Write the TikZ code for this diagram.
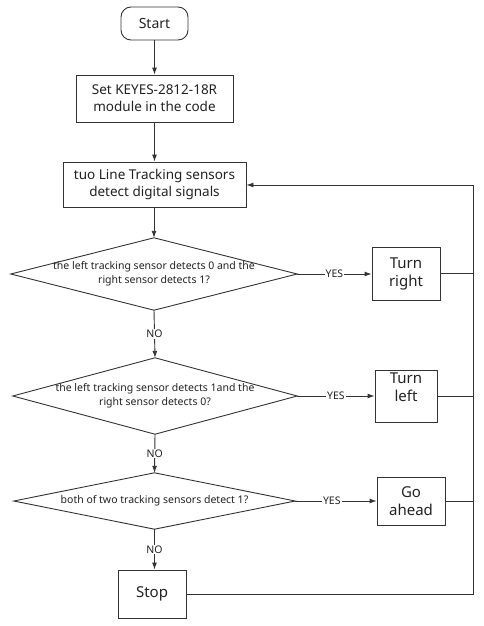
\documentclass[tikz,border=0pt]{standalone}
\usepackage{fontspec}
\setmainfont{Noto Sans}
\usetikzlibrary{arrows.meta}
\definecolor{ln}{HTML}{333333}
\definecolor{tx}{HTML}{222222}
\tikzset{
  base/.style={draw=ln, line width=0.9pt, text=tx, align=center, inner sep=1pt},
  startbox/.style={base, rounded corners=10pt},
  procbox/.style={base, font=\fontsize{13.5}{17}\selectfont},
  bigbox/.style={base, font=\fontsize{15}{18}\selectfont},
  decbox/.style={align=center, text=tx, inner sep=0pt, font=\fontsize{10.5}{14}\selectfont},
  diam/.style={draw=ln, line width=0.9pt},
  conn/.style={draw=ln, line width=0.9pt, -{Latex[length=7pt,width=5pt]}},
  plain/.style={draw=ln, line width=0.9pt},
  lbl/.style={fill=white, text=tx, inner sep=1pt, font=\fontsize{10.5}{12}\selectfont}
}
\begin{document}
\begin{tikzpicture}[x=1pt,y=-1pt]
\useasboundingbox (0,0) rectangle (483,626);

\node[startbox, font=\fontsize{14}{17}\selectfont, minimum width=67pt, minimum height=33pt] (start) at (154.5,23.5) {Start};
\node[procbox, minimum width=157pt, minimum height=47pt] (set) at (154.5,98.5) {Set KEYES-2812-18R\\module in the code};
\node[procbox, minimum width=183pt, minimum height=45pt] (track) at (154.5,184.5) {tuo Line Tracking sensors\\detect digital signals};

\node[decbox, minimum width=286pt, minimum height=72pt] (d1) at (154,274) {the left tracking sensor detects 0 and the\\right sensor detects 1?};
\draw[diam] (d1.west) -- (d1.north) -- (d1.east) -- (d1.south) -- cycle;
\node[decbox, minimum width=284pt, minimum height=76pt] (d2) at (155,396) {the left tracking sensor detects 1and the\\right sensor detects 0?};
\draw[diam] (d2.west) -- (d2.north) -- (d2.east) -- (d2.south) -- cycle;
\node[decbox, minimum width=281pt, minimum height=56pt] (d3) at (154.5,501) {both of two tracking sensors detect 1?};
\draw[diam] (d3.west) -- (d3.north) -- (d3.east) -- (d3.south) -- cycle;

\node[bigbox, minimum width=68pt, minimum height=53pt] (tr) at (406,273.5) {Turn\\right};
\node[bigbox, minimum width=62pt, minimum height=52pt, text depth=18pt] (tl) at (406,396) {Turn\\left};
\node[bigbox, minimum width=68pt, minimum height=48pt] (ga) at (411,501) {Go\\ahead};
\node[bigbox, minimum width=68pt, minimum height=48pt] (stop) at (152,594) {Stop};

\coordinate (rx) at (473,185);
\coordinate (bx) at (473,594);

\draw[conn] (start) -- (set);
\draw[conn] (set) -- (track);
\draw[conn] (track.south -| d1.north) -- (d1.north);
\draw[conn] (d1.east) -- node[lbl, pos=0.5]{YES} (tr.west |- d1.east);
\draw[conn] (d2.east) -- node[lbl, pos=0.5]{YES} (tl.west |- d2.east);
\draw[conn] (d3.east) -- node[lbl, pos=0.45]{YES} (ga.west |- d3.east);
\draw[conn] (d1.south) -- node[lbl, pos=0.5]{NO} (d2.north);
\draw[conn] (d2.south) -- node[lbl, pos=0.5]{NO} (d3.north);
\draw[conn] (d3.south) -- node[lbl, pos=0.5]{NO} (d3.south |- stop.north);
\draw[plain] (tr.east) -- (tr.east -| rx);
\draw[plain] (tl.east) -- (tl.east -| rx);
\draw[plain] (ga.east) -- (ga.east -| rx);
\draw[conn] (stop.east) -- (bx) -- (rx) -- (track.east |- rx);
\end{tikzpicture}
\end{document}
